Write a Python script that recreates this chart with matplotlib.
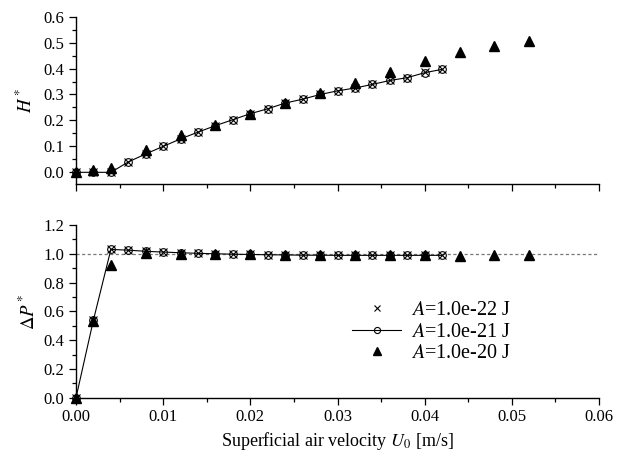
import matplotlib
matplotlib.use("Agg")
import matplotlib.pyplot as plt
from matplotlib.ticker import MultipleLocator, FormatStrFormatter

plt.rcParams['font.family'] = ['Liberation Serif', 'DejaVu Serif']
plt.rcParams['mathtext.fontset'] = 'stix'

# ---- data ----
u_fine = [0.000, 0.002, 0.004, 0.006, 0.008, 0.010, 0.012, 0.014, 0.016, 0.018, 0.020,
          0.022, 0.024, 0.026, 0.028, 0.030, 0.032, 0.034, 0.036, 0.038, 0.040, 0.042]
u_coarse = [0.000, 0.002, 0.004, 0.008, 0.012, 0.016, 0.020, 0.024, 0.028, 0.032,
            0.036, 0.040, 0.044, 0.048, 0.052]

H_22 = [0.0, 0.0, 0.0, 0.040, 0.072, 0.100, 0.130, 0.155, 0.180, 0.203, 0.226,
        0.245, 0.268, 0.282, 0.300, 0.315, 0.326, 0.339, 0.355, 0.365, 0.385, 0.398]
H_21 = [0.0, 0.0, 0.0, 0.040, 0.071, 0.100, 0.129, 0.155, 0.180, 0.203, 0.226,
        0.245, 0.267, 0.282, 0.300, 0.314, 0.325, 0.339, 0.354, 0.365, 0.384, 0.397]
H_20 = [0.003, 0.008, 0.017, 0.087, 0.142, 0.183, 0.226, 0.267, 0.305, 0.344,
        0.385, 0.428, 0.463, 0.488, 0.508]

P_22 = [0.0, 0.54, 1.030, 1.025, 1.017, 1.012, 1.007, 1.003, 1.000, 0.997, 0.995,
        0.993, 0.992, 0.990, 0.990, 0.989, 0.989, 0.989, 0.989, 0.989, 0.989, 0.989]
P_21 = [0.0, 0.54, 1.030, 1.025, 1.017, 1.012, 1.007, 1.003, 1.000, 0.997, 0.995,
        0.993, 0.992, 0.990, 0.990, 0.989, 0.989, 0.989, 0.989, 0.989, 0.989, 0.989]
P_20 = [0.0, 0.53, 0.925, 1.003, 1.000, 0.998, 0.995, 0.993, 0.991, 0.990,
        0.990, 0.990, 0.985, 0.988, 0.990]

labels = ['$A$=1.0e-22 J', '$A$=1.0e-21 J', '$A$=1.0e-20 J']

fig = plt.figure(figsize=(6.19, 4.57), dpi=100)
ax1 = fig.add_axes([0.1228, 0.5974, 0.845, 0.3661])
ax2 = fig.add_axes([0.1228, 0.1298, 0.845, 0.3779])


def plot_series(ax, y22, y21, y20):
    l1, = ax.plot(u_fine, y22, linestyle='none', marker='x', ms=5.5, mew=0.8,
                  color='black', clip_on=False, zorder=3)
    l2, = ax.plot(u_fine, y21, linestyle='-', lw=0.8, marker='o', ms=5.5, mew=0.8,
                  mfc='none', color='black', clip_on=False, zorder=2)
    l3, = ax.plot(u_coarse, y20, linestyle='none', marker='^', ms=7.5,
                  color='black', clip_on=False, zorder=4)
    return l1, l2, l3


plot_series(ax1, H_22, H_21, H_20)
ax2.axhline(1.0, color='#777777', lw=0.9, linestyle=(0, (2.5, 2)), zorder=1)
handles = plot_series(ax2, P_22, P_21, P_20)

for ax in (ax1, ax2):
    ax.set_xlim(0, 0.06)
    ax.spines['top'].set_visible(False)
    ax.spines['right'].set_visible(False)
    ax.spines['left'].set_linewidth(1.0)
    ax.spines['bottom'].set_linewidth(1.0)
    ax.xaxis.set_major_locator(MultipleLocator(0.01))
    ax.xaxis.set_minor_locator(MultipleLocator(0.005))
    ax.tick_params(which='major', direction='out', length=5, width=0.9, labelsize=12)
    ax.tick_params(which='minor', direction='out', length=3, width=0.9)
    ax.yaxis.set_major_formatter(FormatStrFormatter('%.1f'))

ax1.set_ylim(-0.045, 0.6)
ax1.yaxis.set_major_locator(MultipleLocator(0.1))
ax1.yaxis.set_minor_locator(MultipleLocator(0.05))
ax1.set_yticks([0.0, 0.1, 0.2, 0.3, 0.4, 0.5, 0.6])
ax1.tick_params(axis='x', labelbottom=False)
ax1.set_ylabel('$H^*$', fontsize=13.5, labelpad=5)

ax2.set_ylim(0, 1.2)
ax2.yaxis.set_major_locator(MultipleLocator(0.2))
ax2.yaxis.set_minor_locator(MultipleLocator(0.1))
ax2.xaxis.set_major_formatter(FormatStrFormatter('%.2f'))
ax2.set_ylabel(r'$\Delta P^*$', fontsize=13.5, labelpad=3)
ax2.set_xlabel('Superficial air velocity $U_0$ [m/s]', fontsize=13, labelpad=3)

leg = ax2.legend(handles, labels, loc='center', bbox_to_anchor=(0.68, 0.38),
                 frameon=False, fontsize=14.5, handlelength=2.4, handletextpad=0.5,
                 labelspacing=0.1, borderpad=0.2, markerscale=0.8)

fig.savefig('out.png', dpi=100)
